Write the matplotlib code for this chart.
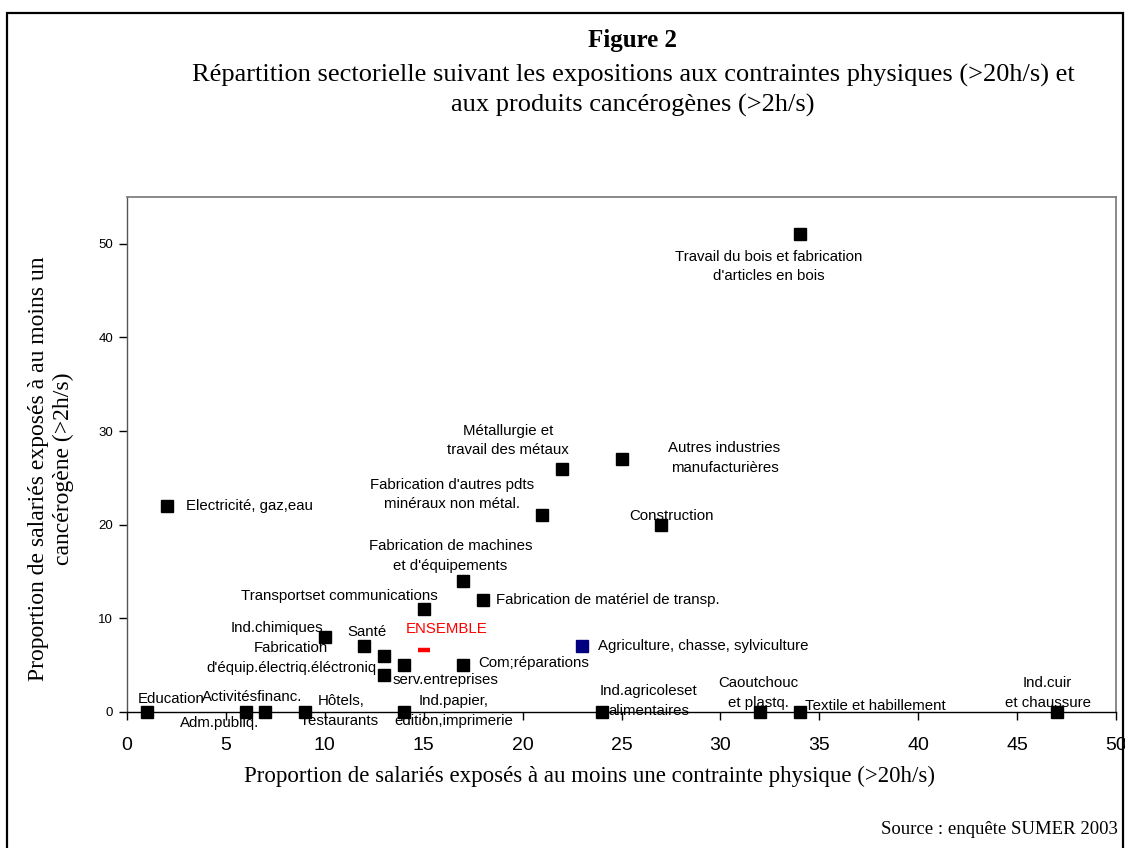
import matplotlib
matplotlib.use("Agg")
import matplotlib.pyplot as plt
from matplotlib.patches import Rectangle

# ---------------- data ----------------
sector_names = [
    "Education", "Adm.publiq.", "Activitésfinanc.", "Hôtels,\nrestaurants",
    "Ind.papier,\nedition,imprimerie", "Ind.agricoleset\nalimentaires",
    "Caoutchouc\net plastq.", "Textile et habillement", "Ind.cuir\net chaussure",
    "Electricité, gaz,eau", "Travail du bois et fabrication\nd'articles en bois",
    "Métallurgie et\ntravail des métaux", "Autres industries\nmanufacturières",
    "Fabrication d'autres pdts\nminéraux non métal.", "Construction",
    "Fabrication de machines\net d'équipements", "Fabrication de matériel de transp.",
    "Transportset communications", "Ind.chimiques", "Santé",
    "Fabrication\nd'équip.électriq.éléctroniq", "serv.entreprises", "",
    "Com;réparations",
]
physique = [1, 6, 7, 9, 14, 24, 32, 34, 47, 2, 34, 22, 25, 21, 27, 17, 18, 15, 10, 12, 13, 13, 14, 17]
cancerogene = [0, 0, 0, 0, 0, 0, 0, 0, 0, 22, 51, 26, 27, 21, 20, 14, 12, 11, 8, 7, 6, 4, 5, 5]

agri_name = "Agriculture, chasse, sylviculture"
agri_x, agri_y = [23], [7]

ensemble_name = "ENSEMBLE"
ens_x, ens_y = [15], [6.6]

x_ticks = [0, 5, 10, 15, 20, 25, 30, 35, 40, 45, 50]
y_ticks = [0, 10, 20, 30, 40, 50]

# label placement: (dx, dy) in pixels relative to point, horizontal alignment
label_offsets = [
    (-9, 13, "left"), (-26, -11, "center"), (-13, 15, "center"), (36, 1, "center"),
    (50, 1, "center"), (47, 11, "center"), (-2, 19, "center"), (5, 6, "left"),
    (-9, 19, "center"), (19, 0, "left"), (-31, -32, "center"), (-54, 28, "center"),
    (103, 1, "center"), (-90, 21, "center"), (10, 9, "center"), (-13, 25, "center"),
    (13, 0, "left"), (-84, 13, "center"), (-48, 9, "center"), (3, 14, "center"),
    (-93, -2, "center"), (61, -5, "center"), (0, 0, "center"), (15, 2, "left"),
]

W, H = 1125, 848
fig = plt.figure(figsize=(W / 100, H / 100), dpi=100)

def fx(x):
    return x / W

def fy(y):
    return 1 - y / H

SANS = ["Liberation Sans", "DejaVu Sans"]
SERIF = ["Liberation Serif", "DejaVu Serif"]

# outer frame
fig.add_artist(Rectangle((fx(7), -0.05), fx(1123) - fx(7), fy(13) + 0.05,
                         transform=fig.transFigure, fill=False, lw=1.6, ec="black"))

ax = fig.add_axes([fx(127), fy(712), fx(1116) - fx(127), fy(197) - fy(712)])
ax.set_xlim(0, 50)
ax.set_ylim(0, 55)

for side in ["top", "right"]:
    ax.spines[side].set_color("#808080")
    ax.spines[side].set_linewidth(1.3)
ax.spines["left"].set_color("#555555")
ax.spines["left"].set_linewidth(1.0)
ax.spines["bottom"].set_color("black")
ax.spines["bottom"].set_linewidth(1.0)

ax.set_xticks(x_ticks)
ax.set_yticks(y_ticks)
ax.tick_params(axis="x", direction="out", length=6, width=1, labelsize=14, pad=12)
ax.tick_params(axis="y", direction="out", length=6, width=1, labelsize=9.5, pad=4)
for lab in ax.get_xticklabels() + ax.get_yticklabels():
    lab.set_family(SANS)

ax.plot(physique, cancerogene, linestyle="none", marker="s", ms=8.6,
        color="black", clip_on=False, zorder=3)
ax.plot(agri_x, agri_y, linestyle="none", marker="s", ms=8.6,
        color="#000080", clip_on=False, zorder=3)
ax.plot(ens_x, ens_y, linestyle="none", marker="_", ms=9, mew=3.2,
        color="#FF0000", clip_on=False, zorder=3)

FS = 10.8
for name, xv, yv, (dx, dy, ha) in zip(sector_names, physique, cancerogene, label_offsets):
    if not name:
        continue
    ax.annotate(name, (xv, yv), xytext=(dx, dy), textcoords="offset pixels",
                ha=ha, va="center", fontsize=FS, family=SANS, linespacing=1.5,
                zorder=4, annotation_clip=False)

ax.annotate(agri_name, (agri_x[0], agri_y[0]), xytext=(16, 0), textcoords="offset pixels",
            ha="left", va="center", fontsize=FS, family=SANS)
ax.annotate(ensemble_name, (ens_x[0], ens_y[0]), xytext=(23, 21), textcoords="offset pixels",
            ha="center", va="center", fontsize=FS, family=SANS, color="#FF0000")

# titles
fig.text(fx(633), fy(40), "Figure 2", ha="center", va="center",
         fontsize=18, fontweight="bold", family=SERIF)
fig.text(fx(633), fy(75), "Répartition sectorielle suivant les expositions aux contraintes physiques (>20h/s) et",
         ha="center", va="center", fontsize=19, family=SERIF)
fig.text(fx(633), fy(105), "aux produits cancérogènes (>2h/s)",
         ha="center", va="center", fontsize=19, family=SERIF)

# axis labels
fig.text(fx(590), fy(776), "Proportion de salariés exposés à au moins une contrainte physique (>20h/s)",
         ha="center", va="center", fontsize=16.5, family=SERIF)
fig.text(fx(51), fy(469), "Proportion de salariés exposés à au moins un\ncancérogène (>2h/s)",
         ha="center", va="center", fontsize=17, family=SERIF, rotation=90, linespacing=1.2)

fig.text(fx(1118), fy(830), "Source : enquête SUMER 2003", ha="right", va="center",
         fontsize=13.5, family=SERIF)

fig.savefig("out.png", dpi=100)
